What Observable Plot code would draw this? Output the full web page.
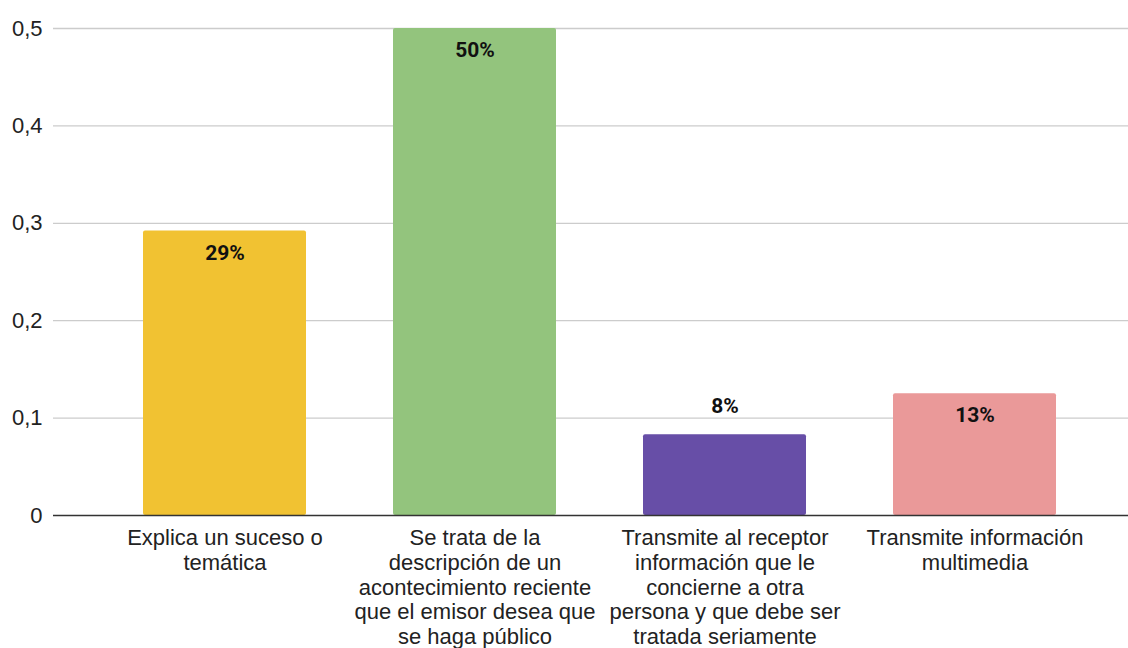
<!DOCTYPE html>
<html><head><meta charset="utf-8">
<script src="https://cdn.jsdelivr.net/npm/d3@7"></script>
<script src="https://cdn.jsdelivr.net/npm/@observablehq/plot@0.6"></script>
<style>body{margin:0;background:#fff;overflow:hidden}</style>
</head><body><div id="chart"></div>
<script>
const categories = [
  "Explica un suceso o temática",
  "Se trata de la descripción de un acontecimiento reciente que el emisor desea que se haga público",
  "Transmite al receptor información que le concierne a otra persona y que debe ser tratada seriamente",
  "Transmite información multimedia"
];
const labelLines = [
  ["Explica un suceso o", "temática"],
  ["Se trata de la", "descripción de un", "acontecimiento reciente", "que el emisor desea que", "se haga público"],
  ["Transmite al receptor", "información que le", "concierne a otra", "persona y que debe ser", "tratada seriamente"],
  ["Transmite información", "multimedia"]
];
const values = [0.292, 0.5, 0.083, 0.125];
const valueLabels = ["29%", "50%", "8%", "13%"];
const colors = ["#f1c232", "#93c47d", "#674ea7", "#ea9999"];
const yTicks = [0, 0.1, 0.2, 0.3, 0.4, 0.5];

const data = categories.map((c, i) => ({
  category: c, value: values[i], label: valueLabels[i], wrapped: labelLines[i].join("\n")
}));
const fmt = v => v === 0 ? "0" : d3.format(".1f")(v).replace(".", ",");

const chart = Plot.plot({
  width: 1128, height: 648,
  marginLeft: 53, marginRight: 0, marginTop: 28, marginBottom: 133,
  style: {fontFamily: "'Liberation Sans', Arial, sans-serif", fontSize: "22px", color: "#222", background: "#fff"},
  x: {domain: categories, range: [98, 1100], paddingInner: 0.35, paddingOuter: 0.175, axis: null},
  y: {domain: [0, 0.5], axis: null, label: null},
  color: {domain: categories, range: colors},
  marks: [
    Plot.ruleY(yTicks.filter(d => d > 0), {stroke: "#cccccc", strokeWidth: 1.3}),
    Plot.barY(data, {x: "category", y: "value", fill: "category", rx: 2}),
    Plot.ruleY([0], {stroke: "#333333", strokeWidth: 1.6}),
    Plot.axisY(yTicks, {tickSize: 0, tickPadding: 11, tickFormat: fmt, fontSize: 22, fill: "#222", label: null}),
    Plot.text(data, {x: "category", y: 0, text: "wrapped", dy: 12, lineAnchor: "top", lineHeight: 1.125, fontSize: 22, fill: "#222"}),
    Plot.text(data, {filter: d => d.value >= 0.1, x: "category", y: "value", text: "label", dy: 22, fontFamily: "Roboto", fontWeight: "bold", fontSize: 21, fill: "#111"}),
    Plot.text(data, {filter: d => d.value < 0.1, x: "category", y: "value", text: "label", dy: -28, fontFamily: "Roboto", fontWeight: "bold", fontSize: 21, fill: "#111"})
  ]
});
document.getElementById("chart").append(chart);
</script>
</body></html>
